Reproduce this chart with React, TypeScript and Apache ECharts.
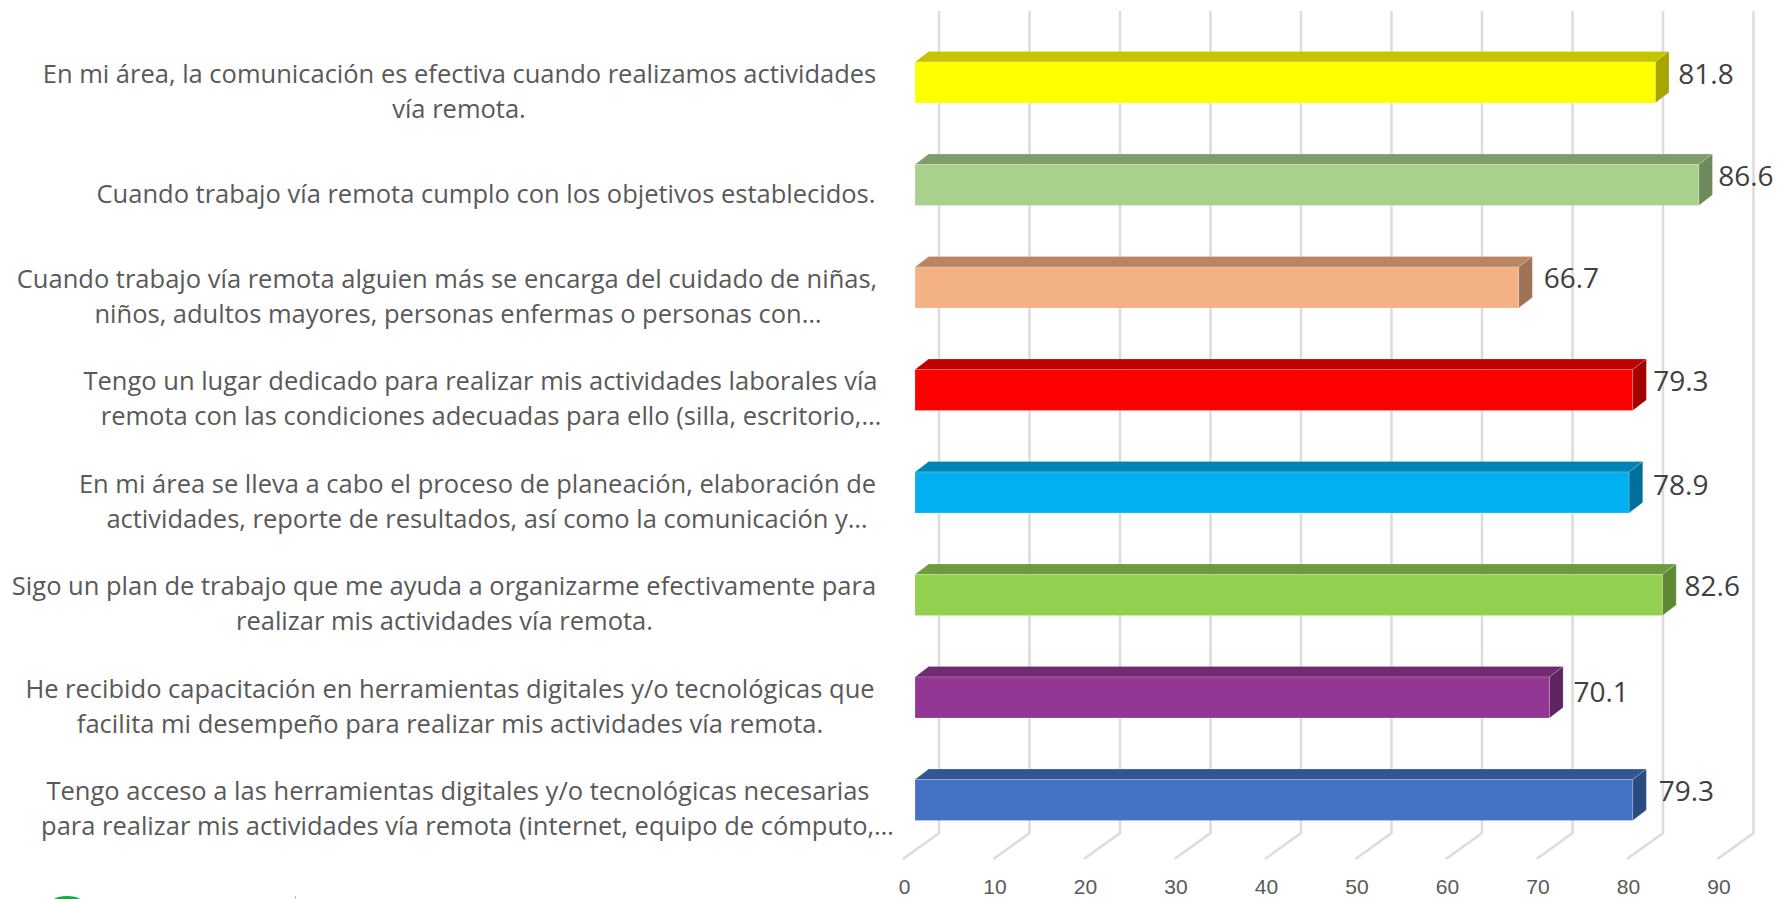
import React, { useEffect, useRef } from "react";
import * as echarts from "echarts";

const categoryLines: string[][] = [
  ["En mi área, la comunicación es efectiva cuando realizamos actividades", "vía remota."],
  ["Cuando trabajo vía remota cumplo con los objetivos establecidos."],
  ["Cuando trabajo vía remota alguien más se encarga del cuidado de niñas,", "niños, adultos mayores, personas enfermas o personas con…"],
  ["Tengo un lugar dedicado para realizar mis actividades laborales vía", "remota con las condiciones adecuadas para ello (silla, escritorio,…"],
  ["En mi área se lleva a cabo el proceso de planeación, elaboración de", "actividades, reporte de resultados, así como la comunicación y…"],
  ["Sigo un plan de trabajo que me ayuda a organizarme efectivamente para", "realizar mis actividades vía remota."],
  ["He recibido capacitación en herramientas digitales y/o tecnológicas que", "facilita mi desempeño para realizar mis actividades vía remota."],
  ["Tengo acceso a las herramientas digitales y/o tecnológicas necesarias", "para realizar mis actividades vía remota (internet, equipo de cómputo,…"],
];
const values = [81.8, 86.6, 66.7, 79.3, 78.9, 82.6, 70.1, 79.3];
const axisTicks = [0, 10, 20, 30, 40, 50, 60, 70, 80, 90];

const frontColors = ["#FFFF00", "#A9D18E", "#F4B183", "#FF0000", "#00B0F0", "#92D050", "#943694", "#4472C4"];
const topColors = ["#C4C400", "#7F9D6B", "#B98563", "#C00000", "#0084B4", "#6E9C3C", "#6F2A70", "#335693"];
const sideColors = ["#A6A600", "#6E8A5C", "#9F7355", "#A00000", "#00709A", "#5F8834", "#602460", "#2A4A80"];

// Layout (pixels)
const GRID_LEFT = 903;
const GRID_WIDTH = 814.5;
const GRID_TOP = 31.25;
const GRID_HEIGHT = 820;
const WALL_DX = 36;
const WALL_TOP = 11;
const WALL_BOTTOM = 833;
const FLOOR_FRONT = 859;
const BAR_OFFSET = 12;
const BAR_HEIGHT = 41;
const DEPTH_X = 13.7;
const DEPTH_Y = 10.5;
const LABEL_GAP = 24;
const LABEL_RISE = 10;
const TEXT_DY = 7.5;
const LINE_GAP = 35;
// Centre of every text line in the reference
const lineCentres: number[][] = [
  [459.5, 459],
  [486],
  [447, 458],
  [480.5, 491],
  [477.5, 487],
  [444, 444.5],
  [450, 450],
  [458, 467.5],
];
// Small per-label shifts of the value labels, as placed in the reference
const labelShiftX = [-1, -4.5, 1, -3.5, 0, -2, 0, 2];
const labelShiftY = [0, 0, -1, 0, 1, 0, 3, 0];

const FONT = "'Open Sans', sans-serif";

export default function App() {
  const ref = useRef<HTMLDivElement>(null);

  useEffect(() => {
    document.body.style.margin = "0";
    const chart = echarts.init(ref.current!, undefined, { renderer: "svg" });
    chart.setOption({
      animation: false,
      backgroundColor: "#ffffff",
      grid: { left: GRID_LEFT, width: GRID_WIDTH, top: GRID_TOP, height: GRID_HEIGHT },
      xAxis: {
        type: "value",
        min: 0,
        max: 90,
        interval: 10,
        axisLine: { show: false },
        axisTick: { show: false },
        splitLine: { show: false },
        axisLabel: {
          color: "#595959",
          fontSize: 21,
          fontFamily: "'Liberation Sans', sans-serif",
          margin: 25,
          padding: [0, 0, 0, 3],
        },
      },
      yAxis: {
        type: "category",
        inverse: true,
        data: categoryLines.map((l) => l.join(" ")),
        axisLine: { show: false },
        axisTick: { show: false },
        axisLabel: { show: false },
        splitLine: { show: false },
      },
      graphic: [
        { type: "ellipse", shape: { cx: 67, cy: 903, rx: 16, ry: 7 }, style: { fill: "#1FA24A" } },
        { type: "rect", shape: { x: 295, y: 896, width: 1, height: 3 }, style: { fill: "#BBBBBB" } },
      ],
      series: [
        {
          type: "custom",
          name: "walls",
          silent: true,
          clip: false,
          data: axisTicks.map((t) => [t]),
          encode: { x: 0 },
          renderItem: (_p: any, api: any) => {
            const x = api.coord([api.value(0), 0])[0];
            return {
              type: "polyline",
              shape: {
                points: [
                  [x + WALL_DX, WALL_TOP],
                  [x + WALL_DX, WALL_BOTTOM],
                  [x, FLOOR_FRONT],
                ],
              },
              style: { stroke: "#DCDCDC", lineWidth: 2.5, fill: "none" },
            };
          },
        },
        {
          type: "custom",
          name: "bars",
          silent: true,
          clip: false,
          data: values.map((v, i) => [v, i]),
          encode: { x: 0, y: 1 },
          renderItem: (_p: any, api: any) => {
            const i = api.value(1);
            const [xEnd, yc] = api.coord([api.value(0), i]);
            const x0 = api.coord([0, i])[0] + BAR_OFFSET;
            const x1 = xEnd + BAR_OFFSET;
            const t = yc - BAR_HEIGHT / 2;
            const b = yc + BAR_HEIGHT / 2;
            const edge = "rgba(255,255,255,0.18)";
            return {
              type: "group",
              children: [
                {
                  type: "polygon",
                  shape: { points: [[x0, t], [x0 + DEPTH_X, t - DEPTH_Y], [x1 + DEPTH_X, t - DEPTH_Y], [x1, t]] },
                  style: { fill: topColors[i], stroke: edge, lineWidth: 1 },
                },
                {
                  type: "polygon",
                  shape: { points: [[x1, t], [x1 + DEPTH_X, t - DEPTH_Y], [x1 + DEPTH_X, b - DEPTH_Y], [x1, b]] },
                  style: { fill: sideColors[i], stroke: edge, lineWidth: 1 },
                },
                {
                  type: "rect",
                  shape: { x: x0, y: t, width: x1 - x0, height: BAR_HEIGHT },
                  style: { fill: frontColors[i], stroke: edge, lineWidth: 1 },
                },
                {
                  type: "text",
                  style: {
                    text: values[i].toFixed(1),
                    x: x1 + LABEL_GAP + labelShiftX[i],
                    y: yc - LABEL_RISE + labelShiftY[i],
                    align: "left",
                    verticalAlign: "middle",
                    fill: "#404040",
                    fontSize: 28,
                    fontFamily: FONT,
                  },
                },
              ],
            };
          },
        },
        {
          type: "custom",
          name: "categories",
          silent: true,
          clip: false,
          data: categoryLines.map((_l, i) => [0, i]),
          encode: { x: 0, y: 1 },
          renderItem: (_p: any, api: any) => {
            const i = api.value(1);
            const yc = api.coord([0, i])[1] + TEXT_DY;
            const lines = categoryLines[i];
            return {
              type: "group",
              children: lines.map((line, k) => ({
                type: "text",
                style: {
                  text: line,
                  x: lineCentres[i][k],
                  y: yc + (k - (lines.length - 1) / 2) * LINE_GAP,
                  align: "center",
                  verticalAlign: "middle",
                  fill: "#595959",
                  fontSize: 25.5,
                  fontFamily: FONT,
                },
              })),
            };
          },
        },
      ],
    });
    return () => chart.dispose();
  }, []);

  return <div ref={ref} style={{ width: 1777, height: 899 }} />;
}
